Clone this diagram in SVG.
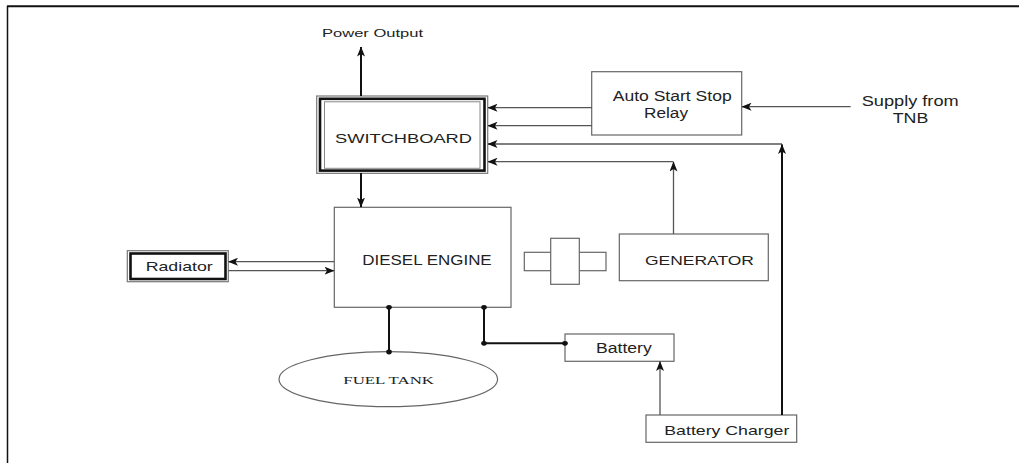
<svg xmlns="http://www.w3.org/2000/svg" width="1019" height="463" viewBox="0 0 1019 463">
<style>
.box{fill:#fff;stroke:#666;stroke-width:1.2}
.lbl{font-family:"Liberation Sans",Arial,sans-serif;fill:#222}
.ser{font-family:"Liberation Serif","Times New Roman",serif;fill:#222}
.thin{fill:none;stroke:#555;stroke-width:1.3}
.thick{fill:none;stroke:#111;stroke-width:2}
.dot{fill:#111}
</style>
<defs>
<marker id="ah" viewBox="0 0 10 8" refX="9.5" refY="4" markerWidth="10" markerHeight="8" markerUnits="userSpaceOnUse" orient="auto">
<path d="M0,0 L10,4 L0,8 L2.5,4 z" fill="#111"/>
</marker>
</defs>
<rect width="1019" height="463" fill="#fff"/>
<g id="frame">
<line x1="7" y1="6.3" x2="1019" y2="6.3" stroke="#111" stroke-width="2"/>
<line x1="7.5" y1="6" x2="7.5" y2="463" stroke="#111" stroke-width="1.5"/>
</g>
<g id="power-output">
<text class="lbl" x="322" y="37" font-size="10.5" textLength="101" lengthAdjust="spacingAndGlyphs">Power Output</text>
</g>
<g id="switchboard">
<rect x="316.7" y="96" width="171" height="77.3" fill="#fff" stroke="#777" stroke-width="1.2"/>
<rect x="320" y="98.8" width="164.5" height="71.8" fill="none" stroke="#111" stroke-width="2.6"/>
<rect x="324.5" y="101.8" width="155.5" height="66.5" fill="#fff" stroke="#888" stroke-width="1"/>
<text class="lbl" x="335" y="142.7" font-size="13" textLength="137" lengthAdjust="spacingAndGlyphs">SWITCHBOARD</text>
</g>
<g id="relay">
<rect class="box" x="591.7" y="71.7" width="150" height="63.3"/>
<text class="lbl" x="612.7" y="100.7" font-size="14" textLength="119" lengthAdjust="spacingAndGlyphs">Auto Start Stop</text>
<text class="lbl" x="644" y="118" font-size="14" textLength="44" lengthAdjust="spacingAndGlyphs">Relay</text>
</g>
<g id="supply">
<text class="lbl" x="861.7" y="106" font-size="14" textLength="97" lengthAdjust="spacingAndGlyphs">Supply from</text>
<text class="lbl" x="892.7" y="123.3" font-size="14" textLength="35.6" lengthAdjust="spacingAndGlyphs">TNB</text>
</g>
<g id="diesel-engine">
<rect class="box" x="334.3" y="207.3" width="176.7" height="100"/>
<text class="lbl" x="362.3" y="265" font-size="14" textLength="129.4" lengthAdjust="spacingAndGlyphs">DIESEL ENGINE</text>
</g>
<g id="coupling">
<rect class="box" x="524.3" y="252.3" width="81.7" height="18.4"/>
<rect class="box" x="550.7" y="238.3" width="28.6" height="46"/>
</g>
<g id="generator">
<rect class="box" x="619.3" y="234" width="149" height="46.7"/>
<text class="lbl" x="645" y="265" font-size="13" textLength="109" lengthAdjust="spacingAndGlyphs">GENERATOR</text>
</g>
<g id="radiator">
<rect x="127.3" y="250.7" width="101" height="31" fill="#fff" stroke="#777" stroke-width="1.2"/>
<rect x="130.5" y="253.5" width="95" height="25.5" fill="none" stroke="#111" stroke-width="2.6"/>
<text class="lbl" x="145.7" y="271" font-size="13" textLength="67" lengthAdjust="spacingAndGlyphs">Radiator</text>
</g>
<g id="fuel-tank">
<ellipse cx="388.3" cy="379.2" rx="109.3" ry="27.5" fill="#fff" stroke="#666" stroke-width="1.2"/>
<text class="ser" x="343.3" y="384.3" font-size="11" textLength="90.7" lengthAdjust="spacingAndGlyphs">FUEL TANK</text>
</g>
<g id="battery">
<rect class="box" x="565" y="334" width="109" height="27.3"/>
<text class="lbl" x="596" y="353.3" font-size="14" textLength="55.7" lengthAdjust="spacingAndGlyphs">Battery</text>
</g>
<g id="battery-charger">
<rect class="box" x="646" y="415" width="150.7" height="27.3"/>
<text class="lbl" x="664.3" y="435" font-size="13" textLength="125" lengthAdjust="spacingAndGlyphs">Battery Charger</text>
</g>
<g id="connectors">
<line class="thick" x1="361" y1="96" x2="361" y2="47" marker-end="url(#ah)"/>
<line class="thick" x1="361" y1="173" x2="361" y2="207" marker-end="url(#ah)"/>
<line class="thin" x1="592" y1="107.7" x2="488" y2="107.7" marker-end="url(#ah)"/>
<line class="thin" x1="592" y1="125.7" x2="488" y2="125.7" marker-end="url(#ah)" stroke="#333"/>
<line class="thin" x1="782" y1="144" x2="488" y2="144" marker-end="url(#ah)"/>
<line class="thin" x1="673.5" y1="161.7" x2="488" y2="161.7" marker-end="url(#ah)"/>
<line class="thin" x1="850.7" y1="106.7" x2="742" y2="106.7" marker-end="url(#ah)"/>
<line class="thin" x1="673.5" y1="234" x2="673.5" y2="162" marker-end="url(#ah)"/>
<line class="thick" x1="782" y1="415" x2="782" y2="144.5" marker-end="url(#ah)"/>
<line class="thin" x1="660" y1="415" x2="660" y2="361.5" marker-end="url(#ah)"/>
<line class="thin" x1="334" y1="261.7" x2="228.5" y2="261.7" marker-end="url(#ah)"/>
<line class="thin" x1="228.5" y1="270.7" x2="334" y2="270.7" marker-end="url(#ah)"/>
<line class="thick" x1="389" y1="307.3" x2="389" y2="352" stroke-width="1.6"/>
<polyline class="thick" points="484,307.3 484,343.3 565,343.3" stroke-width="1.6"/>
<ellipse class="dot" cx="389" cy="307.3" rx="2.8" ry="2.4"/>
<ellipse class="dot" cx="389" cy="352" rx="2.8" ry="2.4"/>
<ellipse class="dot" cx="484" cy="307.3" rx="2.8" ry="2.4"/>
<ellipse class="dot" cx="484" cy="343.3" rx="2.8" ry="2.4"/>
<ellipse class="dot" cx="565" cy="343.3" rx="2.8" ry="2.4"/>
</g>
</svg>
